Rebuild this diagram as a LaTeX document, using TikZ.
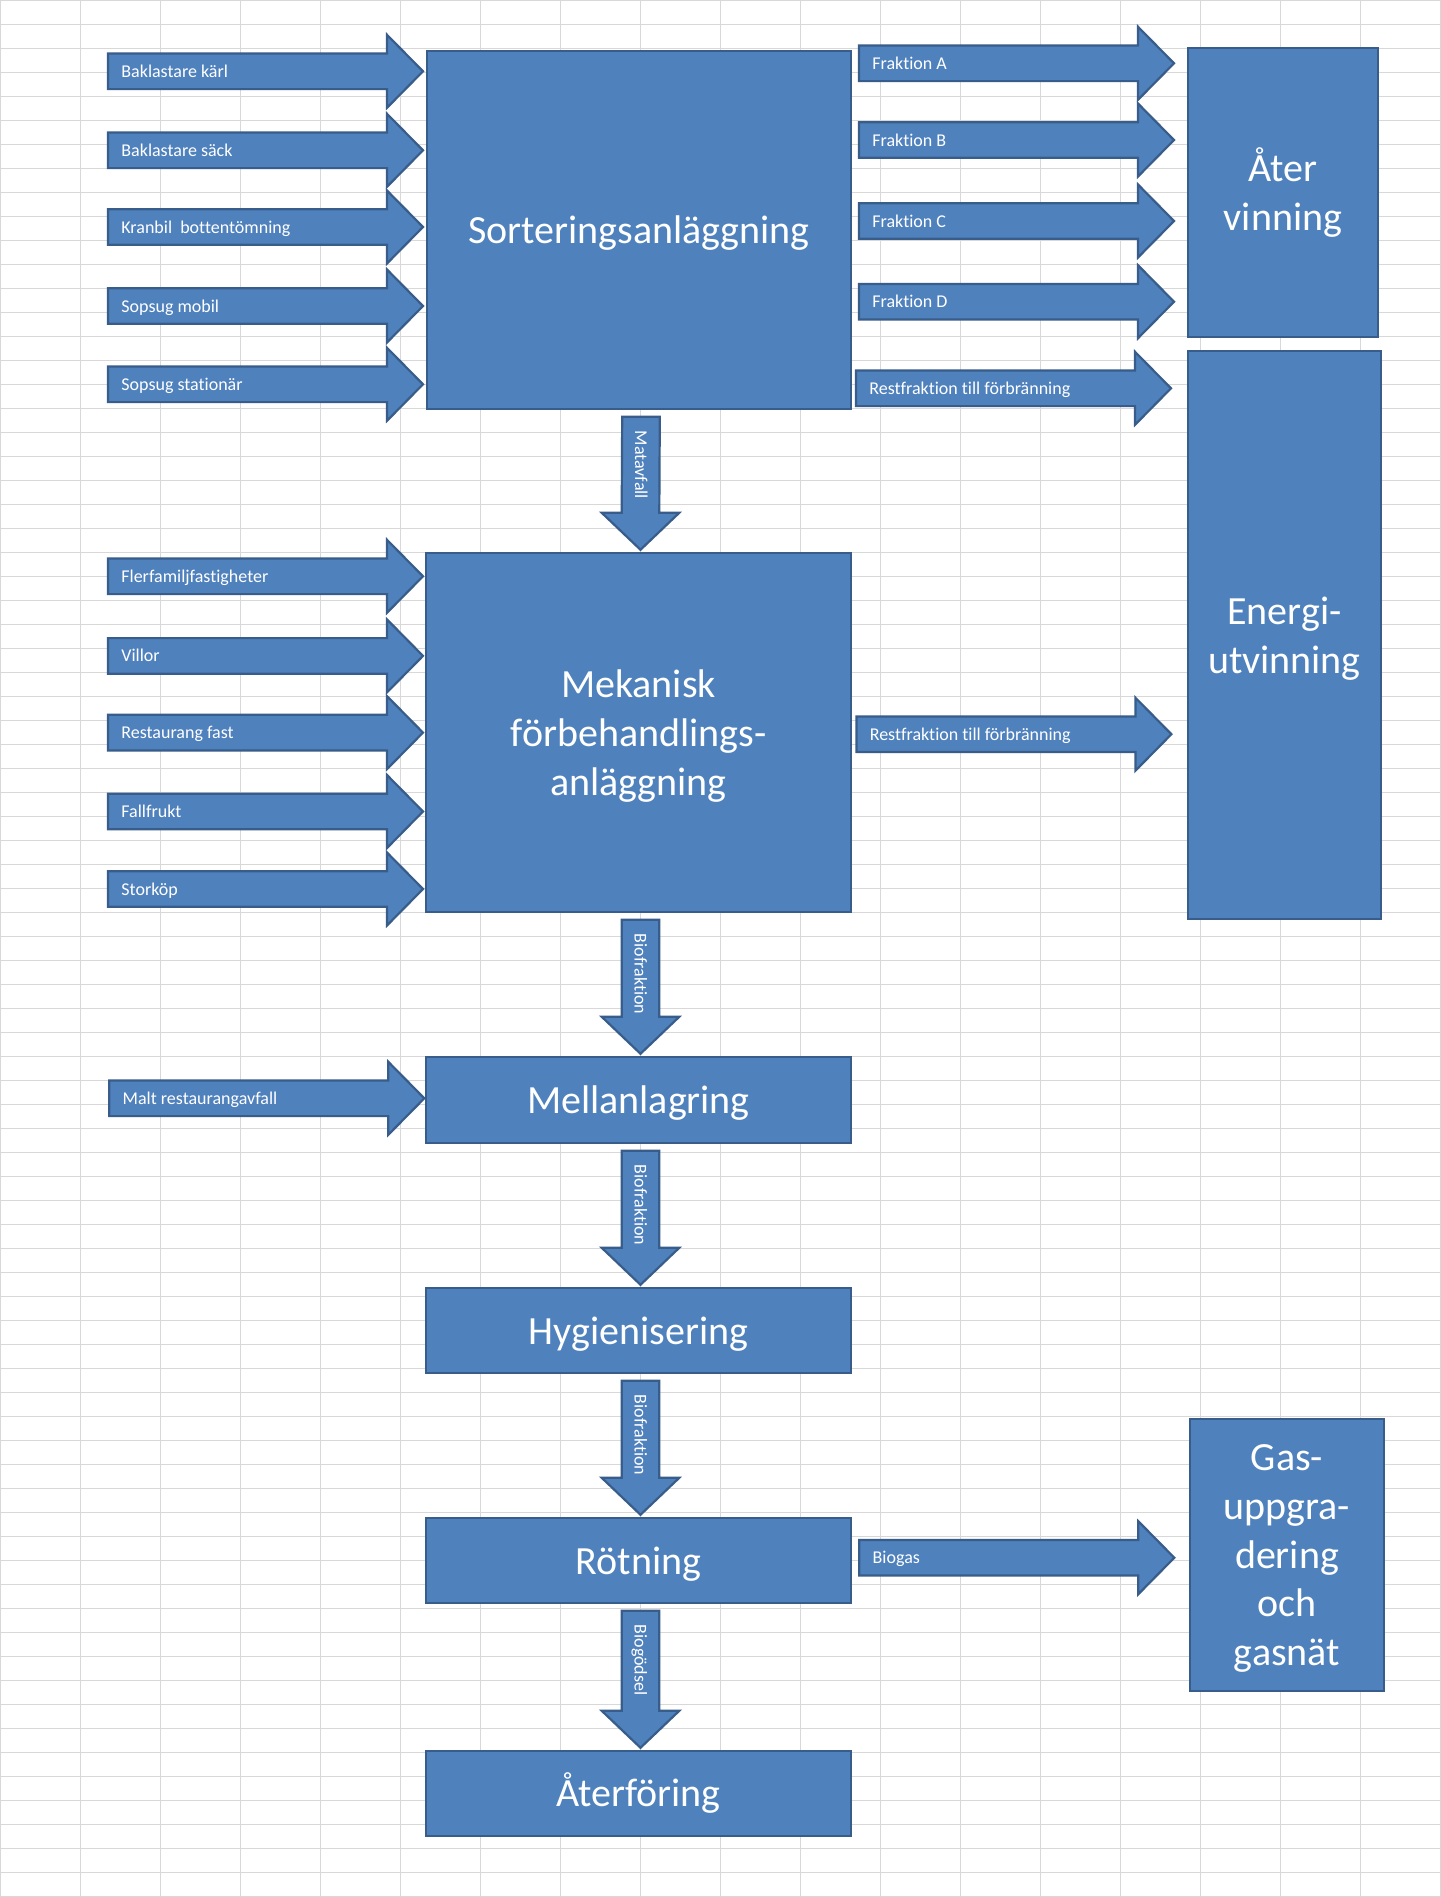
\documentclass[tikz,border=0pt]{standalone}
\usepackage{fontspec}
\setmainfont{Carlito}[Ligatures=NoCommon]
\usetikzlibrary{calc}
\definecolor{boxfill}{HTML}{4F81BD}
\definecolor{boxline}{HTML}{385D8A}
\definecolor{gridc}{HTML}{D8D8D8}
\tikzset{
  box/.style={draw=boxline, fill=boxfill, line width=1.25pt, text=white,
    font=\fontsize{20}{24.4}\selectfont, align=center, inner sep=0pt, text depth=0pt},
  barrow/.style={draw=boxline, fill=boxfill, line width=1.1pt, line join=miter},
  lbl/.style={text=white, font=\fontsize{9}{11}\selectfont, inner sep=0pt},
  gridline/.style={draw=gridc, line width=0.5pt}
}
% horizontal block arrow: #1 tip coordinate, #2 label, #3 label node name
\newcommand\harr[3]{%
  \draw[barrow] ($(#1)+(-315,-17.8)$) -- ($(#1)+(-36,-17.8)$) -- ($(#1)+(-36,-36.5)$) -- (#1)
    -- ($(#1)+(-36,36.5)$) -- ($(#1)+(-36,17.8)$) -- ($(#1)+(-315,17.8)$) -- cycle;
  \node[lbl, anchor=base west] (#3) at ($(#1)+(-302,6)$) {#2};}
% vertical block arrow: #1 source node, #2 target node, #3 label, #4 name
\newcommand\varr[4]{%
  \coordinate (#4s) at ($(#1.south)+(2,6.5)$);
  \coordinate (#4t) at ($(#2.north)+(2,-2)$);
  \draw[barrow] ($(#4s)+(-18.8,0)$) -- ($(#4s)+(18.8,0)$) -- ($(#4t)+(18.8,-37)$)
    -- ($(#4t)+(38.8,-37)$) -- (#4t) -- ($(#4t)+(-38.8,-37)$) -- ($(#4t)+(-18.8,-37)$) -- cycle;
  \node[lbl, rotate=-90, anchor=base west] (#4) at ($(#4s)+(-5.9,13.5)$) {#3};}
\begin{document}
\begin{tikzpicture}[x=0.5pt,y=-0.5pt]
\useasboundingbox (0,0) rectangle (1441,1897);
\fill[white] (0,0) rectangle (1441,1897);
% spreadsheet grid
\foreach \i in {0,80,...,1440} \draw[gridline] (\i,0) -- (\i,1897);
\foreach \j in {0,24,...,1896} \draw[gridline] (0,\j) -- (1441,\j);

% boxes
\node[box, minimum width=212pt, minimum height=179pt] (sort) at (639,230) {Sorteringsanläggning};
\node[box, minimum width=212.5pt, minimum height=179.5pt] (mek) at (638.5,732.5) {Mekanisk\\förbehandlings-\\anläggning};
\node[box, minimum width=212.5pt, minimum height=43pt] (mell) at (638.5,1100) {Mellanlagring};
\node[box, minimum width=212.5pt, minimum height=42.5pt] (hyg) at (638.5,1330.5) {Hygienisering};
\node[box, minimum width=212.5pt, minimum height=42.5pt] (rot) at (638.5,1560.5) {Rötning};
\node[box, minimum width=212.5pt, minimum height=42.5pt] (aterf) at (638.5,1793.5) {};
\node[text=white, font=\fontsize{20}{24.4}\selectfont, inner sep=0pt, text depth=0pt] (aterft) at (638.5,1790) {Återföring};
\node[box, minimum width=95pt, minimum height=144.5pt] (aterv) at (1283,192.5) {};
\node[text=white, font=\fontsize{20}{24.4}\selectfont, align=center, inner sep=0pt, text depth=0pt] (atervt) at (1283,189) {Åter\\vinning};
\node[box, minimum width=96.5pt, minimum height=284pt] (energi) at (1284.5,635) {Energi-\\utvinning};
\node[box, minimum width=97pt, minimum height=136pt] (gas) at (1287,1555) {Gas-\\uppgra-\\dering\\och\\gasnät};

% tips of the horizontal arrows
\coordinate (l1) at (423,71.3);
\coordinate (l2) at (423,150.3);
\coordinate (l3) at (423,227);
\coordinate (l4) at (423,306);
\coordinate (l5) at (423,384.3);
\coordinate (m1) at (423,576.3);
\coordinate (m2) at (423,655.9);
\coordinate (m3) at (423,732.6);
\coordinate (m4) at (423,811.5);
\coordinate (m5) at (423,889);
\coordinate (ml) at (424.3,1098.3);
\coordinate (r1) at (1174,63.3);
\coordinate (r2) at (1174,140);
\coordinate (r3) at (1174,221);
\coordinate (r4) at (1174,301.7);
\coordinate (r5) at (1171,388.3);
\coordinate (r6) at (1171.4,734.2);
\coordinate (bg) at (1174.3,1557.7);

\harr{l1}{Baklastare kärl}{tl1}
\harr{l2}{Baklastare säck}{tl2}
\harr{l3}{Kranbil\ \ bottentömning}{tl3}
\harr{l4}{Sopsug mobil}{tl4}
\harr{l5}{Sopsug stationär}{tl5}
\harr{m1}{Flerfamiljfastigheter}{tm1}
\harr{m2}{Villor}{tm2}
\harr{m3}{Restaurang fast}{tm3}
\harr{m4}{Fallfrukt}{tm4}
\harr{m5}{Storköp}{tm5}
\harr{ml}{Malt restaurangavfall}{tml}
\harr{r1}{Fraktion A}{tr1}
\harr{r2}{Fraktion B}{tr2}
\harr{r3}{Fraktion C}{tr3}
\harr{r4}{Fraktion D}{tr4}
\harr{r5}{Restfraktion till förbränning}{tr5}
\harr{r6}{Restfraktion till förbränning}{tr6}
\harr{bg}{Biogas}{tbg}

\varr{sort}{mek}{Matavfall}{va}
\varr{mek}{mell}{Biofraktion}{vb}
\varr{mell}{hyg}{Biofraktion}{vc}
\varr{hyg}{rot}{Biofraktion}{vd}
\varr{rot}{aterf}{Biogödsel}{ve}
\end{tikzpicture}
\end{document}
